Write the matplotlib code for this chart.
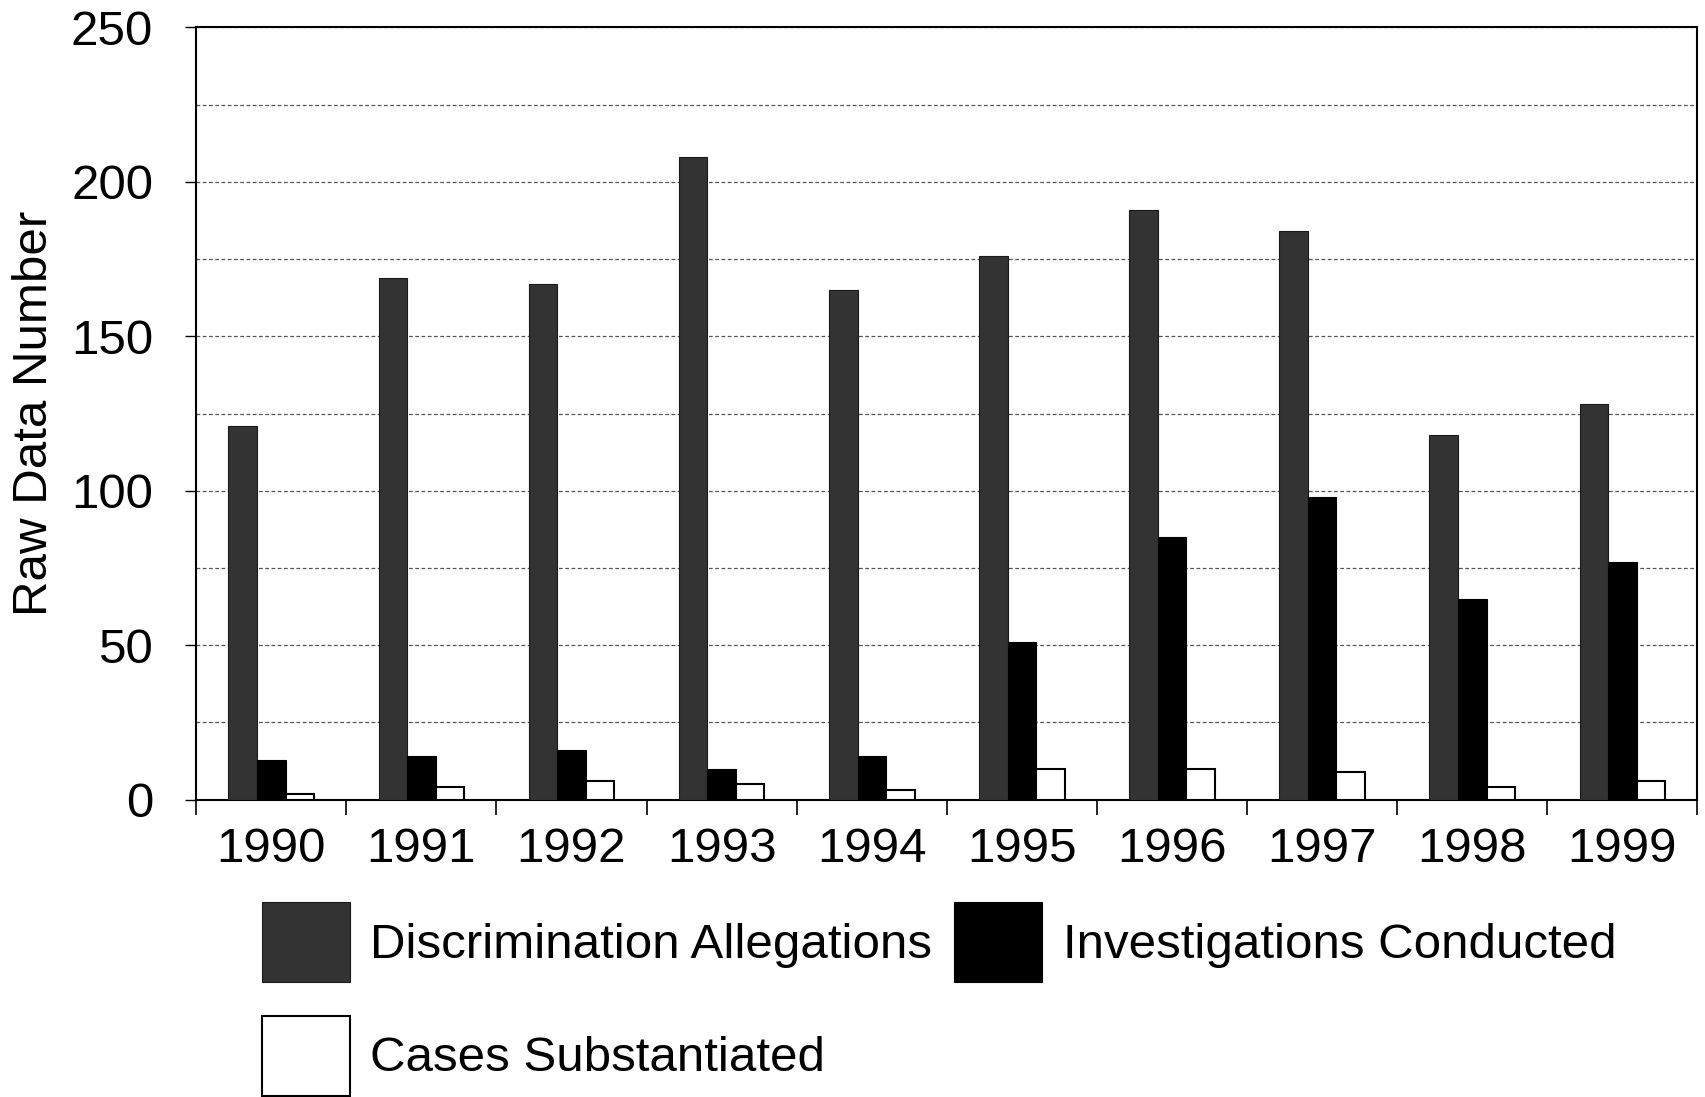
import numpy as np
import matplotlib
matplotlib.use("Agg")
import matplotlib.pyplot as plt

plt.rcParams['font.family'] = ['Liberation Sans', 'DejaVu Sans']

years = ['1990', '1991', '1992', '1993', '1994', '1995', '1996', '1997', '1998', '1999']
allegations = [121, 169, 167, 208, 165, 176, 191, 184, 118, 128]
investigations = [13, 14, 16, 10, 14, 51, 85, 98, 65, 77]
substantiated = [2, 4, 6, 5, 3, 10, 10, 9, 4, 6]
series_names = ['Discrimination Allegations', 'Investigations Conducted', 'Cases Substantiated']

fig = plt.figure(figsize=(17.06, 10.97), dpi=100)
ax = fig.add_axes([0.115, 0.271, 0.88, 0.704])

x = np.arange(len(years))
w = 0.19
b1 = ax.bar(x - w, allegations, w, color='#333333', edgecolor='#1a1a1a', linewidth=0.8, zorder=3)
b2 = ax.bar(x, investigations, w, color='black', edgecolor='black', linewidth=0.8, zorder=3)
b3 = ax.bar(x + w, substantiated, w, color='white', edgecolor='black', linewidth=1.5, zorder=3)

ax.set_xlim(-0.5, len(years) - 0.5)
ax.set_ylim(0, 250)
ax.set_yticks(np.arange(0, 251, 50))
ax.set_yticks(np.arange(0, 251, 25), minor=True)
ax.yaxis.grid(True, which='both', linestyle=(0, (3, 2)), color='#555555', linewidth=0.9, zorder=0)

# x tick marks sit between the year groups, labels centred under groups
ax.set_xticks(np.arange(-0.5, len(years), 1.0))
ax.set_xticklabels([])
ax.set_xticks(x, minor=True)
ax.set_xticklabels(years, minor=True)
ax.tick_params(axis='x', which='major', length=11, width=1.2, direction='out')
ax.tick_params(axis='x', which='minor', length=0, pad=20, labelsize=35.5)
ax.tick_params(axis='y', which='major', length=8, width=1, labelsize=35.5, pad=23)
ax.tick_params(axis='y', which='minor', length=0)

for s in ax.spines.values():
    s.set_linewidth(1.5)

ax.set_ylabel('Raw Data Number', fontsize=35.5, labelpad=10)

# column-wise fill, so order gives DA | IC on row one, CS on row two
fig.legend([b1, b3, b2], [series_names[0], series_names[2], series_names[1]],
           loc='upper left', bbox_to_anchor=(0.139, 0.2),
           ncol=2, frameon=False, fontsize=35.5, handlelength=1.78, handleheight=2.12,
           handletextpad=0.42, columnspacing=0.45, labelspacing=0.68, borderpad=0)

fig.savefig('out.png', dpi=100)
